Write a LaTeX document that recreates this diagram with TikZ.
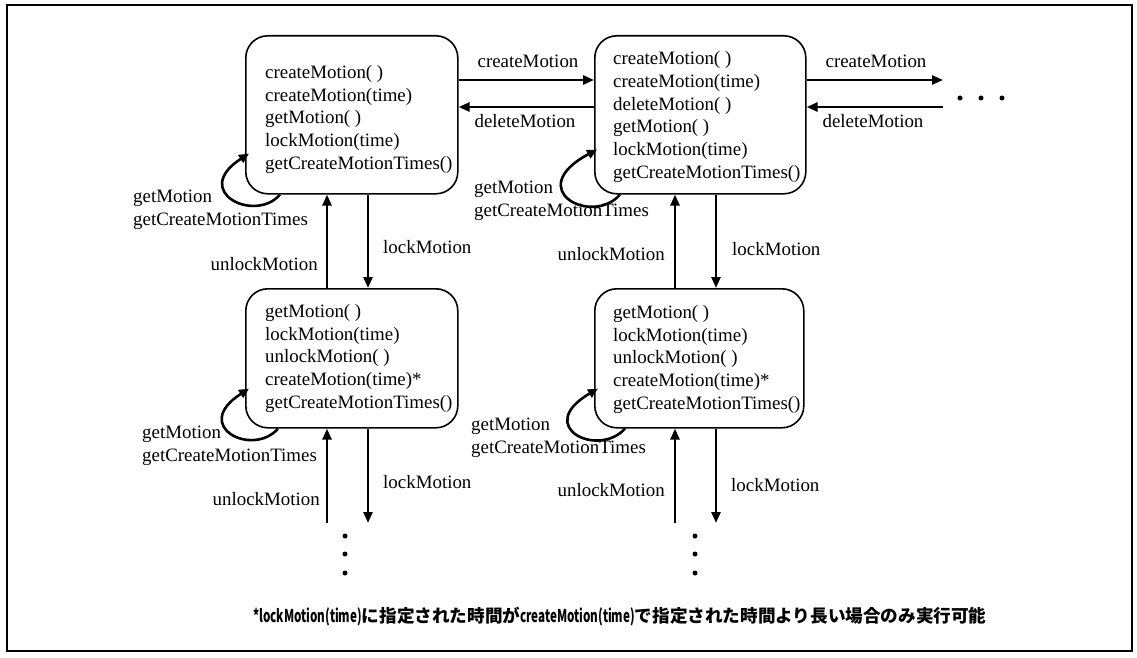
\documentclass[tikz,border=0pt]{standalone}
\usepackage{fontspec}
\setmainfont{Liberation Serif}
\newfontfamily\cjk{Noto Sans CJK JP}
\usetikzlibrary{arrows.meta}
\begin{document}
\begin{tikzpicture}[x=1pt,y=-1pt,
  box/.style={draw, line width=1.6pt, rounded corners=22pt, inner sep=0pt, anchor=north west},
  txt/.style={font=\fontsize{18.9}{22.6}\selectfont, align=left, inner sep=0pt, anchor=base west},
  lbl/.style={font=\fontsize{18.9}{22.6}\selectfont, inner sep=0pt},
  arr/.style={line width=2.6pt, -{Triangle[length=11pt,width=9pt]}},
  selfloop/.style={line width=2.6pt, -{Triangle[length=10pt,width=9pt]}},
  dot/.style={circle, fill, inner sep=0pt, minimum size=5pt}]
\useasboundingbox (0,0) rectangle (1137,658);
\draw[line width=1.5pt] (7,5) rectangle (1132,651);

% states
\node[box, minimum width=212pt, minimum height=158pt] (b1) at (245,35) {};
\node[box, minimum width=211pt, minimum height=158pt] (b2) at (594,35) {};
\node[box, minimum width=212pt, minimum height=139pt] (b3) at (245,288) {};
\node[box, minimum width=209pt, minimum height=139pt] (b4) at (594,288) {};

% (base anchor of a multi-line node = baseline of its last line)
\node[txt] (t1) at (265,169) {createMotion( )\\createMotion(time)\\getMotion( )\\lockMotion(time)\\getCreateMotionTimes()};
\node[txt] (t2) at (613,178) {createMotion( )\\createMotion(time)\\deleteMotion( )\\getMotion( )\\lockMotion(time)\\getCreateMotionTimes()};
\node[txt] (t3) at (265,408) {getMotion( )\\lockMotion(time)\\unlockMotion( )\\createMotion(time)*\\getCreateMotionTimes()};
\node[txt] (t4) at (613,409) {getMotion( )\\lockMotion(time)\\unlockMotion( )\\createMotion(time)*\\getCreateMotionTimes()};

% horizontal transitions
\coordinate (r1) at (943,80);
\coordinate (r2) at (943,107);
\draw[arr] ([yshift=-45pt]b1.north east) -- ([yshift=-45pt]b2.north west);
\draw[arr] ([yshift=-72pt]b2.north west) -- ([yshift=-72pt]b1.north east);
\draw[arr] ([yshift=-45pt]b2.north east) -- (r1);
\draw[arr] (r2) -- ([yshift=-72pt]b2.north east);

% vertical transitions
\draw[arr] ([xshift=82pt]b3.north west) -- ([xshift=82pt]b1.south west);
\draw[arr] ([xshift=123pt]b1.south west) -- ([xshift=123pt]b3.north west);
\draw[arr] ([xshift=81pt]b4.north west) -- ([xshift=81pt]b2.south west);
\draw[arr] ([xshift=122pt]b2.south west) -- ([xshift=122pt]b4.north west);

\coordinate (e1) at (327,523);
\coordinate (e2) at (368,523);
\coordinate (e3) at (675,523);
\coordinate (e4) at (716,523);
\draw[arr] (e1) -- ([xshift=82pt]b3.south west);
\draw[arr] ([xshift=123pt]b3.south west) -- (e2);
\draw[arr] (e3) -- ([xshift=81pt]b4.south west);
\draw[arr] ([xshift=122pt]b4.south west) -- (e4);

% self loops
\draw[selfloop] ([xshift=35pt]b1.south west) .. controls +(-25,29) and +(-59,38) .. ([xshift=4pt,yshift=41pt]b1.south west);
\draw[selfloop] ([xshift=26pt]b2.south west) .. controls +(-28,32) and +(-75,40) .. ([xshift=3pt,yshift=45pt]b2.south west);
\draw[selfloop] ([xshift=33pt]b3.south west) .. controls +(-25,29) and +(-59,38) .. ([xshift=4pt,yshift=40pt]b3.south west);
\draw[selfloop] ([xshift=31pt]b4.south west) .. controls +(-27,30) and +(-65,38) .. ([xshift=4pt,yshift=40pt]b4.south west);

% labels
\node[lbl, anchor=base] (lc1) at (528,68) {createMotion};
\node[lbl, anchor=base] (ld1) at (525,128) {deleteMotion};
\node[lbl, anchor=base] (lc2) at (876,68) {createMotion};
\node[lbl, anchor=base] (ld2) at (873,128) {deleteMotion};
\node[lbl, anchor=base west] (ll1) at (383,253) {lockMotion};
\node[lbl, anchor=base east] (lu1) at (318,270) {unlockMotion};
\node[lbl, anchor=base west] (ll2) at (732,255) {lockMotion};
\node[lbl, anchor=base east] (lu2) at (665,260) {unlockMotion};
\node[lbl, anchor=base west] (ll3) at (383,488) {lockMotion};
\node[lbl, anchor=base east] (lu3) at (320,505) {unlockMotion};
\node[lbl, anchor=base west] (ll4) at (731,491) {lockMotion};
\node[lbl, anchor=base east] (lu4) at (665,496) {unlockMotion};

\node[txt] (g1) at (133,225) {getMotion\\getCreateMotionTimes};
\node[txt] (g2) at (474,216) {getMotion\\getCreateMotionTimes};
\node[txt] (g3) at (142,461) {getMotion\\getCreateMotionTimes};
\node[txt] (g4) at (471,453) {getMotion\\getCreateMotionTimes};

% continuation dots
\node[dot] (d1) at (960,98) {};
\node[dot] (d2) at (981,98) {};
\node[dot] (d3) at (1002,98) {};
\node[dot] (v1) at (345,536) {};
\node[dot] (v2) at (345,554) {};
\node[dot] (v3) at (345,573) {};
\node[dot] (w1) at (695,536) {};
\node[dot] (w2) at (695,554) {};
\node[dot] (w3) at (695,573) {};

% footnote
\node[anchor=base west, inner sep=0pt, font=\cjk\bfseries\fontsize{17.6}{20}\selectfont] (note) at (253,622)
  {\scalebox{0.66}[1]{*lockMotion(time)}に指定された時間が\scalebox{0.66}[1]{createMotion(time)}で指定された時間より長い場合のみ実行可能};
\end{tikzpicture}
\end{document}
